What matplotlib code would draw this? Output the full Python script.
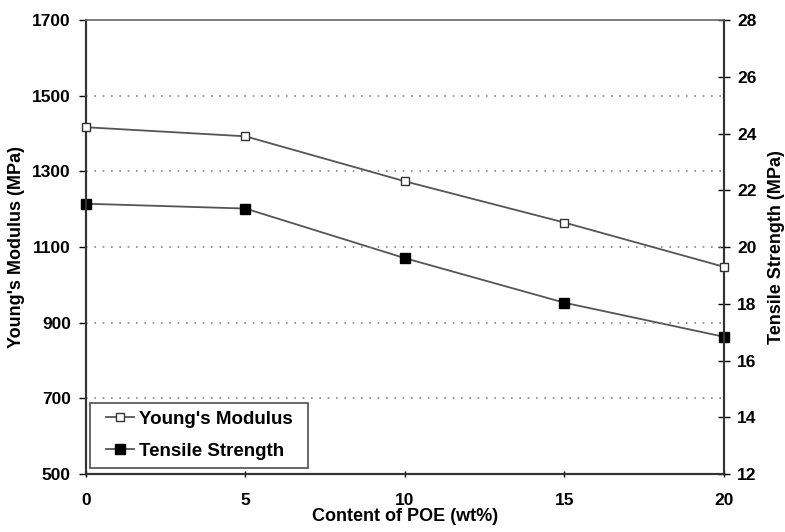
import matplotlib
matplotlib.use("Agg")
import matplotlib.pyplot as plt
from matplotlib.legend_handler import HandlerLine2D

# POE content and measured properties
poe_content = [0, 5, 10, 15, 20]
youngs_modulus = [1417, 1393, 1274, 1165, 1048]      # MPa, left axis
tensile_strength = [21.53, 21.36, 19.61, 18.04, 16.84]  # MPa, right axis

left_ticks = [500, 700, 900, 1100, 1300, 1500, 1700]
right_ticks = [12, 14, 16, 18, 20, 22, 24, 26, 28]
x_ticks = [0, 5, 10, 15, 20]

plt.rcParams['font.family'] = ['Liberation Sans', 'DejaVu Sans']
plt.rcParams['font.weight'] = 'bold'

fig = plt.figure(figsize=(7.85, 5.32), dpi=100)
ax = fig.add_axes([0.1096, 0.109, 0.8124, 0.853])
ax2 = ax.twinx()

line_color = '#555555'

l1, = ax.plot(poe_content, youngs_modulus, color=line_color, lw=1.3,
              marker='s', ms=6, mfc='white', mec='#333333', mew=1.0,
              label="Young's Modulus", zorder=3, clip_on=False)
l2, = ax2.plot(poe_content, tensile_strength, color=line_color, lw=1.3,
               marker='s', ms=6.5, mfc='black', mec='black',
               label='Tensile Strength', zorder=3, clip_on=False)

ax.set_xlim(0, 20)
ax.set_ylim(500, 1700)
ax2.set_ylim(12, 28)
ax.set_xticks(x_ticks)
ax.set_yticks(left_ticks)
ax2.set_yticks(right_ticks)

# dotted horizontal reference lines
for v in left_ticks[1:-1]:
    ax.axhline(v, color='#888888', lw=1.2, ls=(0, (1, 4)), zorder=1)

for s in ['left', 'bottom', 'right']:
    ax.spines[s].set_color('#333333')
    ax.spines[s].set_linewidth(1.5)
    ax2.spines[s].set_color('#333333')
    ax2.spines[s].set_linewidth(1.5)
ax.spines['top'].set_color('#666666')
ax.spines['top'].set_linewidth(1.2)
ax2.spines['top'].set_visible(False)

ax.tick_params(axis='y', direction='out', length=5, width=1, labelsize=12.5, pad=6)
ax.tick_params(axis='x', direction='inout', length=5, width=1, labelsize=12.5, pad=11)
ax2.tick_params(axis='y', direction='inout', length=9, width=1, labelsize=12.5, pad=5)
for lab in ax.get_xticklabels() + ax.get_yticklabels() + ax2.get_yticklabels():
    lab.set_fontweight('bold')

ax.set_ylabel("Young's Modulus (MPa)", fontsize=13, fontweight='bold', labelpad=5)
ax2.set_ylabel('Tensile Strength (MPa)', fontsize=13, fontweight='bold', labelpad=8)
ax.set_xlabel('Content of POE (wt%)', fontsize=13, fontweight='bold', labelpad=0)

leg = ax.legend(handles=[l1, l2], loc='lower left',
                bbox_to_anchor=(0.006, 0.013, 0.342, 0.14), mode='expand',
                borderaxespad=0, fancybox=False, frameon=True, edgecolor='#222222',
                fontsize=13.5, handlelength=1.9, handletextpad=0.3,
                labelspacing=0.8, borderpad=0.43,
                handler_map={l1: HandlerLine2D(xpad=0.45),
                             l2: HandlerLine2D(xpad=0.45)})
leg.get_frame().set_linewidth(1.2)
for t in leg.get_texts():
    t.set_fontweight('bold')
leg.set_zorder(5)
ax.set_zorder(ax2.get_zorder() + 1)
ax.patch.set_visible(False)

fig.savefig('out.png', dpi=100)
